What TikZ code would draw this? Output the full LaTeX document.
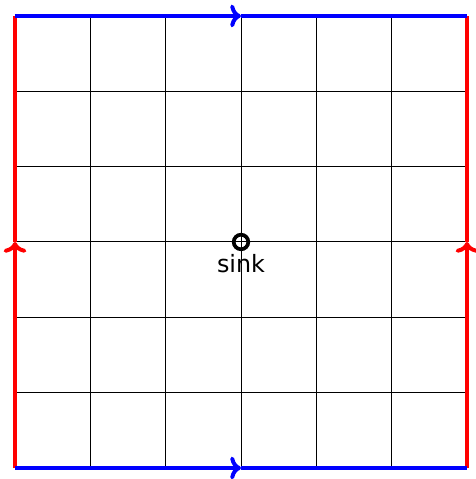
\documentclass[tikz,border=0pt]{standalone}
\usepackage{fontspec}
\setmainfont{DejaVu Sans}
\usetikzlibrary{positioning,arrows.meta}

\begin{document}
\begin{tikzpicture}[
  x=2cm, y=2cm,
  gridline/.style={draw=black, line width=0.75pt},
  blueedge/.style={draw=blue, line width=3pt},
  rededge/.style={draw=red, line width=3pt},
  tip/.style={-{Computer Modern Rightarrow[scale=1.0]}},
  sinkdot/.style={circle, draw=black, line width=2.8pt, inner sep=0pt,
                  minimum size=11pt},
  sinklabel/.style={font=\fontsize{18}{21}\selectfont, inner sep=0pt}
]
\useasboundingbox (-0.199,-0.146) rectangle (6.119,6.212);

% grid
\foreach \i in {1,...,5} {
  \draw[gridline] (\i,0) -- (\i,6);
  \draw[gridline] (0,\i) -- (6,\i);
}

% corners and midpoints of the border
\coordinate (bl) at (0,0);
\coordinate (br) at (6,0);
\coordinate (tl) at (0,6);
\coordinate (tr) at (6,6);
\coordinate (lm) at (0,3);
\coordinate (rm) at (6,3);
\coordinate (tm) at (3,6);
\coordinate (bm) at (3,0);

% red sides, pointing up
\draw[rededge, tip] (bl) -- (lm);
\draw[rededge] (lm) -- (tl);
\draw[rededge, tip] (br) -- (rm);
\draw[rededge] (rm) -- (tr);

% blue sides, pointing right
\draw[blueedge, tip] (tl) -- (tm);
\draw[blueedge] (tm) -- (tr);
\draw[blueedge, tip] (bl) -- (bm);
\draw[blueedge] (bm) -- (br);

% sink
\node[sinkdot] (sink) at (3,3) {};
\node[sinklabel, below=2pt of sink] (sinktext) {sink};

\end{tikzpicture}
\end{document}
